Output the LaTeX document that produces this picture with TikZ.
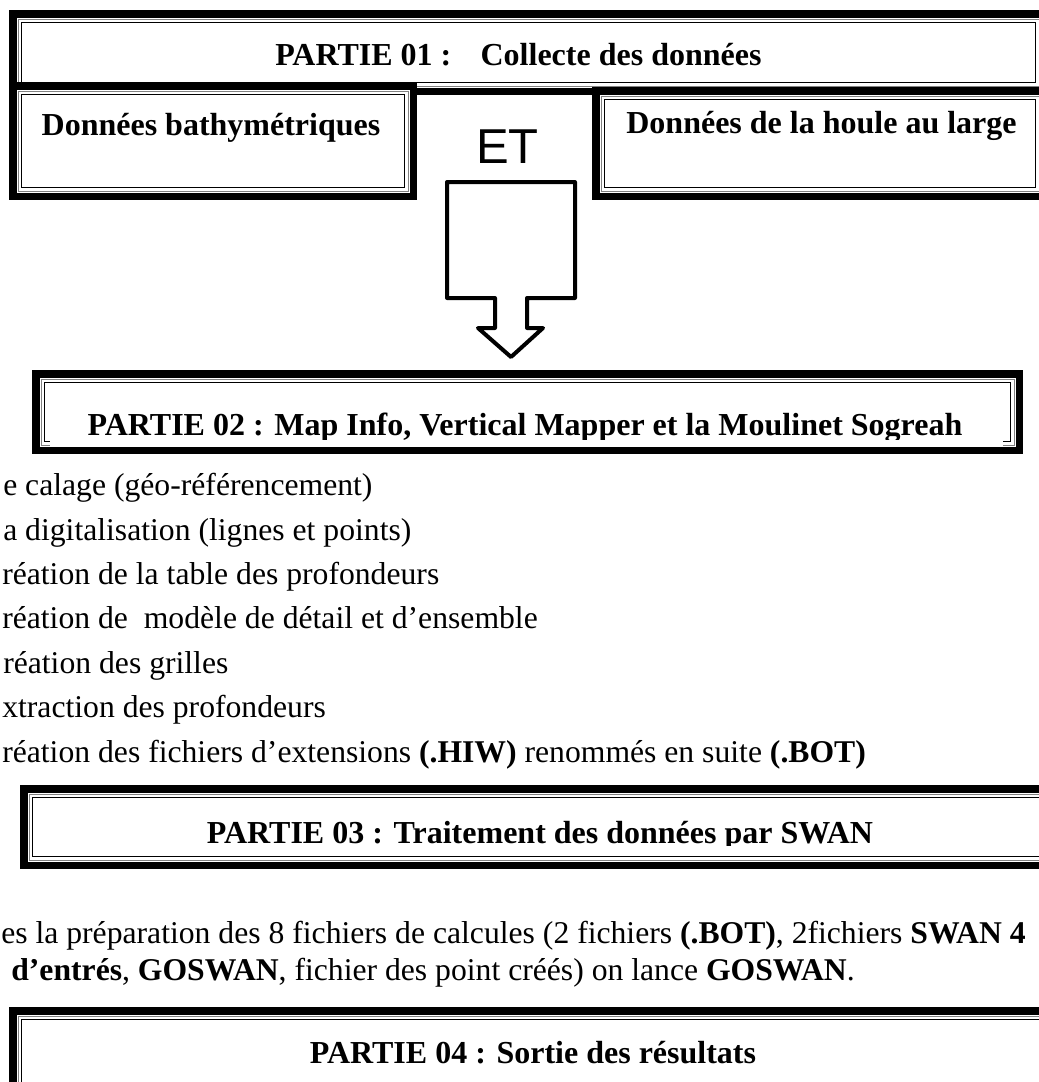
\documentclass[tikz,border=0pt]{standalone}
\usepackage{fontspec}
\setmainfont{Liberation Serif}
\newfontfamily\arialfont{Liberation Sans}
\usepackage{tikz}

% cadre epais-fin-fin (x1,y1) (x2,y2) en pixels
\newcommand{\partframe}[4]{%
	{\fill[white] (#1,#2) rectangle (#3,#4);}
	{\draw[cadreepais] ({#1+3.75},{#2+3.75}) rectangle ({#3-3.75},{#4-3.75});}
	{\draw[cadregris] ({#1+9},{#2+9}) rectangle ({#3-9},{#4-9});}
	{\draw[cadrefin] ({#1+12.5},{#2+12.5}) rectangle ({#3-12.5},{#4-12.5});}
}

\begin{document}
\begin{tikzpicture}[x=0.75pt, y=-0.75pt,
		cadreepais/.style={line width=5.625pt},
		cadregris/.style={line width=0.75pt, gray},
		cadrefin/.style={line width=1.125pt},
		titre/.style={inner sep=0pt, anchor=base, font=\fontsize{24}{29}\selectfont\bfseries},
		texte/.style={inner sep=0pt, anchor=base west, font=\fontsize{23.75}{29}\selectfont},
		fleche/.style={line width=3pt, line join=round}]
			{\useasboundingbox (0,0) rectangle (1039,1082);}
			\clip (0,0) rectangle (1039,1082);
			% PARTIE 01
			\partframe{9}{10}{1048}{95}
			\partframe{9}{82}{417}{200}
			\partframe{592}{87}{1048}{200}
			{\node[titre, anchor=base west] (partie1) at (275,65) {PARTIE 01 :\hspace{22pt}Collecte des données};}
			{\node[titre] (bathy) at (211,135) {Données bathymétriques};}
			{\node[titre] (houle) at (821.5,133) {Données de la houle au large};}
			{\node[inner sep=0pt, anchor=base, font=\arialfont\fontsize{36.75}{44}\selectfont] (et) at (507.5,163) {ET};}
			{\draw[fleche] (447,182) -- (575,182) -- (575,298) -- (527,298) -- (527,328) -- (543,328) -- (511,357)
				-- (478,328) -- (495,328) -- (495,298) -- (447,298) -- cycle;}
			% PARTIE 02
			\partframe{32}{370}{1023}{454}
			{\fill[white] (50,388) rectangle (1003,447);}
			\begin{scope}
				\clip (50,388) rectangle (1003,439);
				\node[titre] (partie2) at (525,435) {PARTIE 02 : Map Info, Vertical Mapper et la Moulinet Sogreah};
			\end{scope}
			{\node[texte] (etape1) at (3,495) {e calage (géo-référencement)};}
			{\node[texte] (etape2) at (3,540) {a digitalisation (lignes et points)};}
			{\node[texte] (etape3) at (2,584) {réation de la table des profondeurs};}
			{\node[texte] (etape4) at (2,628) {réation de\ \ modèle de détail et d’ensemble};}
			{\node[texte] (etape5) at (3,673) {réation des grilles};}
			{\node[texte] (etape6) at (2,717) {xtraction des profondeurs};}
			{\node[texte] (etape7) at (2,762) {réation des fichiers d’extensions \textbf{(.HIW)} renommés en suite \textbf{(.BOT)}};}
			% PARTIE 03
			\partframe{20}{785}{1060}{869}
			\begin{scope}
				\clip (0,800) rectangle (1039,845);
				\node[titre] (partie3) at (540,843) {PARTIE 03 : Traitement des données par SWAN};
			\end{scope}
			{\node[texte] (para1) at (1,943) {es la préparation des 8 fichiers de calcules (2 fichiers \textbf{(.BOT)}, 2fichiers \textbf{SWAN 4}};}
			{\node[texte, anchor=base east] (para2) at (855,980) {\textbf{d’entrés}, \textbf{GOSWAN}, fichier des point créés) on lance \textbf{GOSWAN}.};}
			% PARTIE 04
			\partframe{9}{1007}{1060}{1100}
			{\node[titre] (partie4) at (533,1063) {PARTIE 04 : Sortie des résultats};}
			%{\draw[red] (0,0) grid[step=100] (1039,1082);}
		\end{tikzpicture}
\end{document}
